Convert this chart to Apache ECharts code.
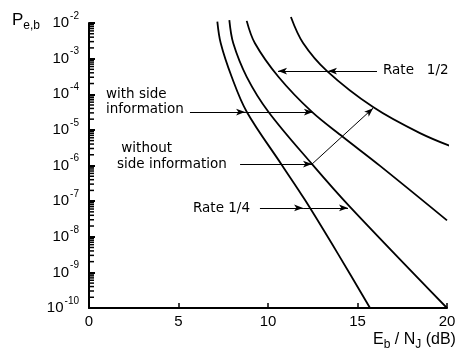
<!DOCTYPE html>
<html><head><meta charset="utf-8">
<script src="https://cdn.jsdelivr.net/npm/echarts@6/dist/echarts.min.js"></script>
<style>html,body{margin:0;padding:0;background:#fff}#c{width:461px;height:356px}</style>
</head><body><div id="c"></div>
<script>
// x: Eb/NJ (dB), y: log10(Pe,b)
const xTickValues = [0, 5, 10, 15, 20];
const yDecades = [-10, -9, -8, -7, -6, -5, -4, -3, -2];
const minorMultipliers = [2, 3, 4, 5, 6, 7, 8, 9];

const rate14With = [[7.17,-1.96],[7.36,-2.57],[7.97,-3.51],[8.81,-4.49],[10.78,-5.99],[12.07,-6.97],[13.91,-8.48],[15.70,-10.0]];
const rate14Without = [[7.84,-1.92],[8.06,-2.57],[8.81,-3.51],[10.02,-4.49],[12.46,-5.96],[14.58,-7.16],[20.0,-10.0]];
const rate12With = [[8.81,-1.94],[9.27,-2.57],[10.58,-3.51],[12.44,-4.49],[14.19,-5.20],[16.26,-6.01],[20.0,-7.54]];
const rate12Without = [[11.28,-1.83],[11.96,-2.56],[13.30,-3.35],[15.87,-4.36],[18.49,-5.09],[20.73,-5.56]];

// annotation arrows [from, to] in data coords
const arrows = [
  [[16.09,-3.35],[13.35,-3.35]], [[13.35,-3.35],[10.56,-3.35]],
  [[5.64,-4.50],[8.72,-4.50]], [[8.72,-4.50],[12.51,-4.50]],
  [[8.44,-5.96],[12.46,-5.96]], [[12.46,-5.96],[15.87,-4.39]],
  [[9.55,-7.19],[11.96,-7.19]], [[11.96,-7.19],[14.47,-7.19]]
];

const minorTicks = [];
for (let i = 0; i < yDecades.length - 1; i++) {
  for (let j = 0; j < minorMultipliers.length; j++) {
    minorTicks.push(yDecades[i] + Math.log(minorMultipliers[j]) / Math.LN10);
  }
}

const FONT = 'DejaVu Sans';
const TICKFONT = 'Liberation Sans';
const chart = echarts.init(document.getElementById('c'), null, {renderer: 'canvas'});

function curve(data) {
  return {
    type: 'line', data: data, smooth: 0.35, showSymbol: false, clip: false, silent: true,
    lineStyle: {color: '#000', width: 1.8}, animation: false
  };
}

const series = [curve(rate14With), curve(rate14Without), curve(rate12With), curve(rate12Without)];
series[0].markLine = {
  silent: true, animation: false, symbol: ['none', 'arrow'], symbolSize: [5, 9],
  label: {show: false},
  lineStyle: {color: '#000', width: 1, type: 'solid'},
  emphasis: {disabled: true},
  data: arrows.map(a => [{coord: a[0]}, {coord: a[1]}])
};

const textGraphics = [
  {type: 'text', left: 12, top: 12, style: {
    text: '{p|P}{s|e,b}', rich: {
      p: {fontFamily: TICKFONT, fontSize: 17, fill: '#000'},
      s: {fontFamily: TICKFONT, fontSize: 12, fill: '#000', padding: [10, 0, 0, 0]}
    }}},
  {type: 'text', left: 383, top: 63, style: {text: 'Rate   1/2', font: '13.5px "' + FONT + '"', fill: '#000'}},
  {type: 'text', left: 106, top: 87, style: {text: 'with side\ninformation', font: '13.5px "' + FONT + '"', lineHeight: 15, fill: '#000'}},
  {type: 'text', left: 117, top: 140, style: {text: ' without\nside information', font: '13.5px "' + FONT + '"', lineHeight: 16, fill: '#000'}},
  {type: 'text', left: 193, top: 201, style: {text: 'Rate 1/4', font: '13.5px "' + FONT + '"', fill: '#000'}},
  {type: 'text', left: 373, top: 332, style: {
    text: '{t|E}{s|b}{t| / N}{s|J}{t| (dB)}', rich: {
      t: {fontFamily: TICKFONT, fontSize: 16, fill: '#000'},
      s: {fontFamily: TICKFONT, fontSize: 12, fill: '#000', padding: [9, 0, 0, 0]}
    }}}
];

chart.setOption({
  animation: false,
  backgroundColor: '#fff',
  grid: {left: 89, right: 14, top: 23, bottom: 48},
  xAxis: {
    type: 'value', min: 0, max: 20, interval: 5,
    axisLine: {show: true, lineStyle: {color: '#000', width: 2}},
    axisTick: {show: true, inside: true, length: 5, lineStyle: {color: '#000', width: 1.5}},
    axisLabel: {color: '#000', fontFamily: TICKFONT, fontSize: 15, margin: 6,
      customValues: xTickValues},
    splitLine: {show: false}
  },
  yAxis: {
    type: 'value', min: -10, max: -2, interval: 1,
    axisLine: {show: true, lineStyle: {color: '#000', width: 2}},
    axisTick: {show: true, inside: true, length: 6, lineStyle: {color: '#000', width: 2}},
    axisLabel: {
      color: '#000', margin: 10, customValues: yDecades,
      formatter: v => '{b|10}{s|' + Math.round(v) + '}',
      rich: {
        b: {fontFamily: TICKFONT, fontSize: 15, color: '#000'},
        s: {fontFamily: TICKFONT, fontSize: 10, color: '#000', padding: [0, 0, 14, 1]}
      }
    },
    splitLine: {show: false}
  },
  graphic: textGraphics,
  series: series
});

// minor log ticks on the y axis, placed through the axis scale
const tickGraphics = minorTicks.map(v => {
  const p = chart.convertToPixel({gridIndex: 0}, [0, v]);
  return {type: 'line', silent: true, z: 100,
    shape: {x1: p[0], y1: p[1], x2: p[0] + 5, y2: p[1]},
    style: {stroke: '#000', lineWidth: 1.5}};
});
chart.setOption({graphic: textGraphics.concat(tickGraphics)});
</script>
</body></html>
